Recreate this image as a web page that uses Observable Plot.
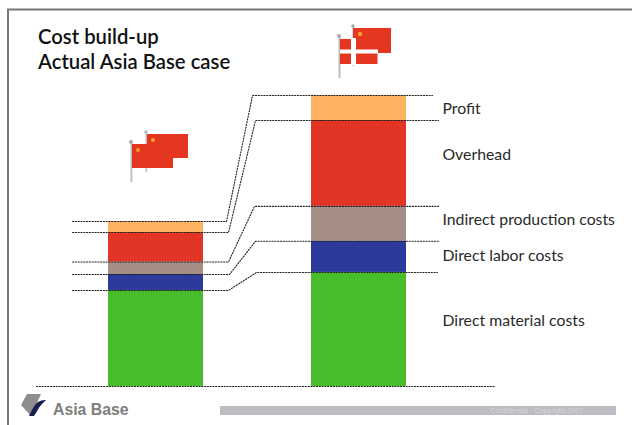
<!DOCTYPE html>
<html><head><meta charset="utf-8">
<script src="https://cdn.jsdelivr.net/npm/d3@7"></script>
<script src="https://cdn.jsdelivr.net/npm/@observablehq/plot@0.6"></script>
<style>
html,body{margin:0;padding:0;background:#fff;width:632px;height:425px;overflow:hidden}
#wrap{position:relative;width:632px;height:425px}
#wrap svg{position:absolute;left:0;top:0}
#title{position:absolute;left:38px;top:24px;font:600 20.3px/25px Lato,sans-serif;color:#111;white-space:nowrap}
#brand{position:absolute;left:53px;top:400px;font:bold 15.8px/20px "Liberation Sans",sans-serif;color:#7d7d7d}
#conf{position:absolute;left:490px;top:406px;font:7.2px/10px "Liberation Sans",sans-serif;color:#d6d6da;white-space:nowrap}
</style></head><body>
<div id="wrap"></div>
<script>
// Segments, bottom to top; values read in chart units (Denmark total = 100)
const segments = ["Direct material costs","Direct labor costs","Indirect production costs","Overhead","Profit"];
const colors   = ["#48bc2a","#2b3a9b","#a48e85","#e33525","#fdb35f"];
const asiaValues    = [33.0, 5.5, 4.3, 10.1, 3.8];
const denmarkValues = [39.2, 10.7, 12.0, 29.5, 8.6];
const labelLevels   = [22.4, 44.7, 57.2, 79.7, 95.5];

// Horizontal extents in chart units
const bars = [
  {name:"Asia", from:108, to:203, values:asiaValues},
  {name:"Denmark", from:311, to:406, values:denmarkValues}
];
const leaderLeft  = [72, 72, 72, 72, 72];
const leaderBendA = [228, 229, 228, 228, 226];
const leaderBendB = [256, 255, 254, 255, 252];
const leaderRight = [437, 438, 438, 438, 432];
const labelX = 442;
const baseFrom = 36, baseTo = 494;

const asiaTops = Array.from(d3.cumsum(asiaValues));
const denmarkTops = Array.from(d3.cumsum(denmarkValues));

const rects = bars.flatMap(b => {
  const tops = Array.from(d3.cumsum(b.values));
  return b.values.map((v,i) => ({x1:b.from, x2:b.to, y1:tops[i]-v, y2:tops[i], seg:segments[i]}));
});
const leaders = segments.map((s,i) => [
  {x:leaderLeft[i],  y:asiaTops[i]},
  {x:leaderBendA[i], y:asiaTops[i]},
  {x:leaderBendB[i], y:denmarkTops[i]},
  {x:leaderRight[i], y:denmarkTops[i]}
]);
const labels = segments.map((s,i) => ({x:labelX, y:labelLevels[i], s}));

const dotted = {stroke:"#222", strokeWidth:1.1, strokeDasharray:"1.2,1.6"};
const chart = Plot.plot({
  width:632, height:425, margin:0,
  style:{background:"transparent"},
  x:{domain:[0,632], range:[0,632], axis:null},
  y:{domain:[0,100], range:[386,95], axis:null},
  color:{domain:segments, range:colors},
  marks:[
    Plot.rect(rects,{x1:"x1",x2:"x2",y1:"y1",y2:"y2",fill:"seg"}),
    ...leaders.map(l => Plot.line(l,{x:"x",y:"y",curve:"linear",...dotted})),
    Plot.line([{x:baseFrom,y:0},{x:baseTo,y:0}],{x:"x",y:"y",...dotted}),
    Plot.text(labels,{x:"x",y:"y",text:"s",textAnchor:"start",fontSize:15.8,fontFamily:"Lato, sans-serif",fill:"#2a2a2a"})
  ]
});

const deco = `<svg xmlns="http://www.w3.org/2000/svg" width="632" height="425" viewBox="0 0 632 425">
<path d="M8 425V9.5H632" fill="none" stroke="#777" stroke-width="2"/>
<g>
 <rect x="145.5" y="132" width="1.5" height="40" fill="#bbb"/><circle cx="146" cy="132" r="1.8" fill="#b5b8c4"/>
 <rect x="130.5" y="142" width="1.8" height="40" fill="#bbb"/><circle cx="131" cy="142" r="2" fill="#aaa"/>
 <rect x="147" y="134" width="41" height="24" fill="#e5361f"/>
 <rect x="132" y="144" width="41" height="24" fill="#e5361f"/>
 <circle cx="153" cy="140" r="2" fill="#f5a030"/><circle cx="138" cy="150" r="2" fill="#f5a030"/>
</g>
<g>
 <rect x="352.5" y="26" width="1.5" height="40" fill="#bbb"/><circle cx="353" cy="26" r="1.8" fill="#aaa"/>
 <rect x="338.5" y="36" width="2" height="42" fill="#bbb"/><circle cx="339" cy="36" r="2" fill="#aaa"/>
 <rect x="353" y="28" width="38" height="25" fill="#e5361f"/>
 <circle cx="360" cy="34" r="2.2" fill="#f5a030"/>
 <rect x="340" y="39" width="37.5" height="25" fill="#e5361f"/>
 <rect x="351" y="38" width="5" height="27" fill="#fff"/>
 <rect x="340" y="49.5" width="38" height="4" fill="#fff"/>
</g>
<rect x="220" y="406" width="396" height="9" fill="#bcbcc2"/>
<polygon points="27,394 41,394 31,416 21,405" fill="#8e8e8e"/>
<path d="M29 416C33 408 36 399 46 400L42 404C38 408 37 412 34 416Z" fill="#16204f"/>
</svg>`;
const wrap = document.getElementById("wrap");
wrap.insertAdjacentHTML("beforeend", deco);
wrap.appendChild(chart);
wrap.insertAdjacentHTML("beforeend", `<div id="title">Cost build-up<br>Actual Asia Base case</div><div id="brand">Asia Base</div><div id="conf">Confidential - Copyright 2007</div>`);
</script>
</body></html>
